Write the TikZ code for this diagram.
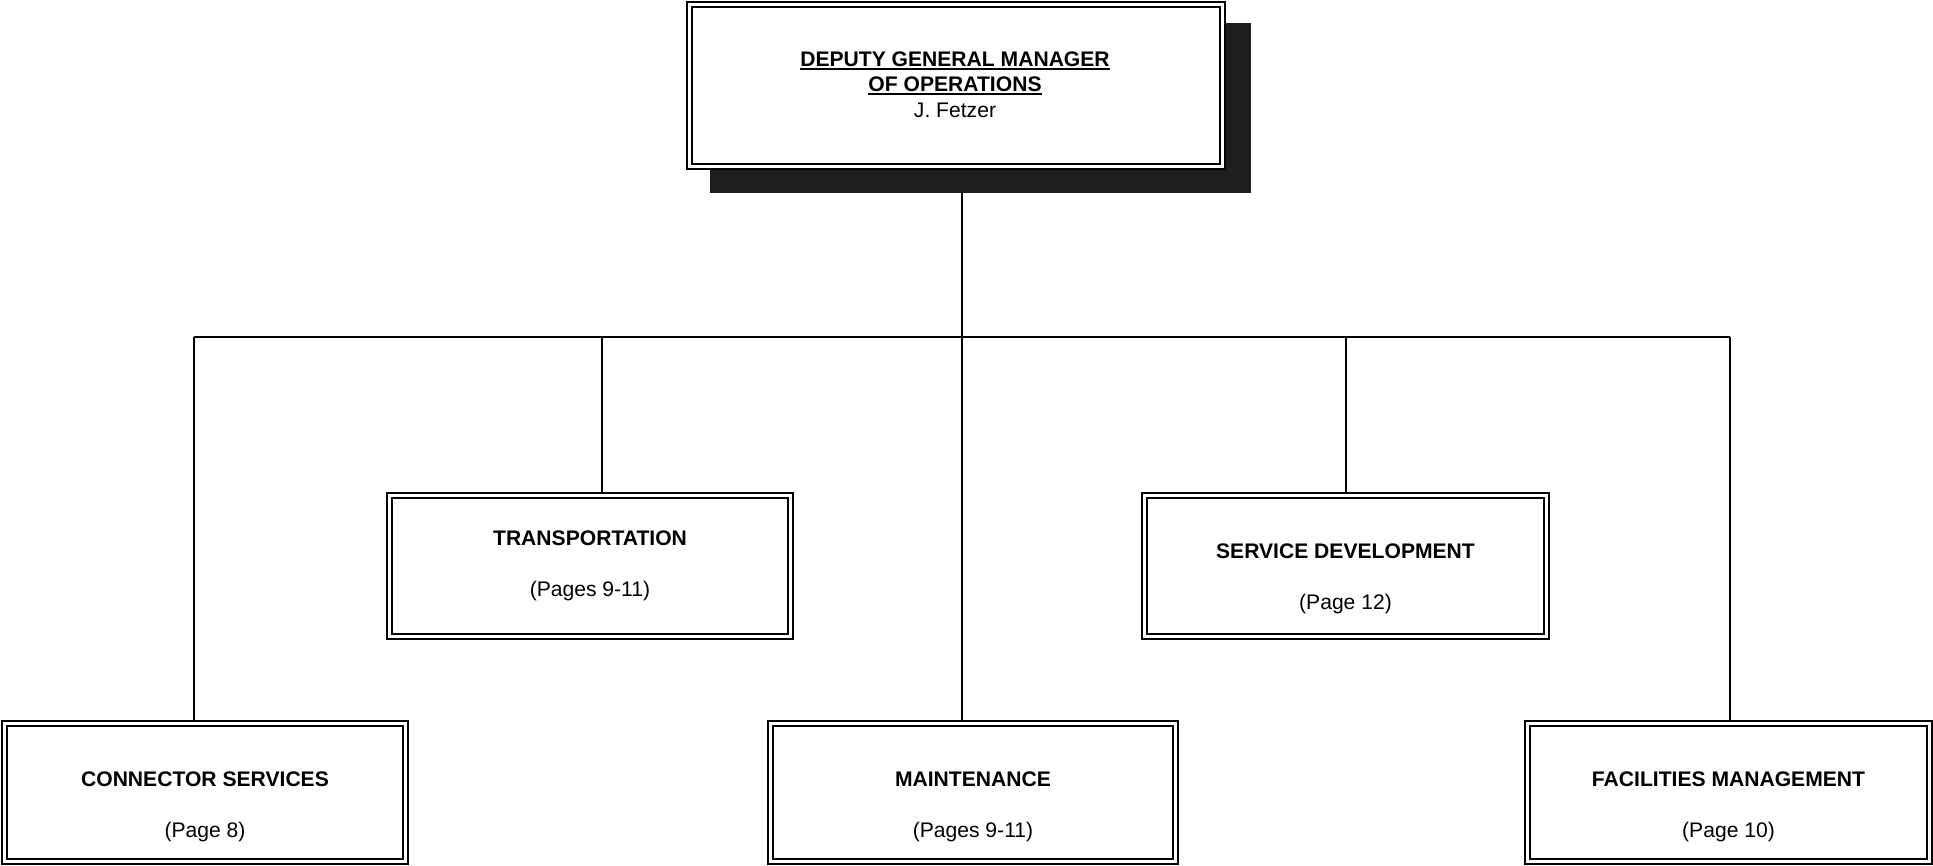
\documentclass[tikz,border=0pt]{standalone}
\usepackage{fontspec}
\setmainfont{Liberation Sans}
\usetikzlibrary{calc}
\definecolor{shadowgray}{HTML}{1E1E1E}
% underline with a rule of a chosen thickness and depth
\newsavebox\ulbox
\newcommand\ulinetext[1]{\sbox\ulbox{#1}\leavevmode\rlap{\rule[-3.4pt]{\wd\ulbox}{1.7pt}}\usebox\ulbox}
\begin{document}
\begin{tikzpicture}[x=1pt,y=-1pt,
  orgbox/.style={draw, line width=2.8pt, fill=white, rectangle, inner sep=0pt, outer sep=0pt},
  innerline/.style={line width=1.6pt},
  link/.style={line width=2pt},
  headtext/.style={font=\fontsize{21.1}{24.5}\selectfont\bfseries, inner sep=0pt},
  pagetext/.style={font=\fontsize{21.1}{24.5}\selectfont, inner sep=0pt},
  dropshadow/.style={fill=shadowgray, draw=none, rectangle, inner sep=0pt, outer sep=0pt}]
\useasboundingbox (0,0) rectangle (1933,866);

% top box with its shadow
\node[dropshadow, minimum width=541pt, minimum height=170pt] (shadow) at (980.5,108) {};
\node[orgbox, minimum width=538pt, minimum height=167pt] (top) at (956,85.5) {};
\node[inner sep=0pt, align=center, font=\fontsize{21.1}{25.6}\selectfont] (toptext) at (955,84.5)
  {\textbf{\ulinetext{DEPUTY GENERAL MANAGER}}\\ \textbf{\ulinetext{OF OPERATIONS}}\\ J. Fetzer};

% second row
\node[orgbox, minimum width=406pt, minimum height=146pt] (tr) at (590,566) {};
\node[orgbox, minimum width=407pt, minimum height=146pt] (sd) at (1345.5,566) {};

% third row
\node[orgbox, minimum width=406pt, minimum height=143pt] (cs) at (205,792.5) {};
\node[orgbox, minimum width=410pt, minimum height=143pt] (mt) at (973,792.5) {};
\node[orgbox, minimum width=407pt, minimum height=143pt] (fm) at (1728.5,792.5) {};

% inner frame of each box
\foreach \n in {top,tr,sd,cs,mt,fm}
  \draw[innerline] ([shift={(5pt,-5pt)}]\n.north west) rectangle ([shift={(-5pt,5pt)}]\n.south east);

% box labels
\node[headtext] (trt) at ([yshift=27.5pt]tr.center) {TRANSPORTATION};
\node[pagetext] (trp) at ([yshift=-25.5pt]tr.center) {(Pages 9-11)};
\node[headtext] (sdt) at ([yshift=15pt]sd.center) {SERVICE DEVELOPMENT};
\node[pagetext] (sdp) at ([yshift=-38.5pt]sd.center) {(Page 12)};
\node[headtext] (cst) at ([yshift=13pt]cs.center) {CONNECTOR SERVICES};
\node[pagetext] (csp) at ([yshift=-40pt]cs.center) {(Page 8)};
\node[headtext] (mtt) at ([yshift=13pt]mt.center) {MAINTENANCE};
\node[pagetext] (mtp) at ([yshift=-40pt]mt.center) {(Pages 9-11)};
\node[headtext] (fmt) at ([yshift=13pt]fm.center) {FACILITIES MANAGEMENT};
\node[pagetext] (fmp) at ([yshift=-40pt]fm.center) {(Page 10)};

% horizontal bus and its drop points
\coordinate (b1) at (193.5,336.7);
\coordinate (b2) at (601.5,336.7);
\coordinate (b3) at (962,336.7);
\coordinate (b4) at (1345.5,336.7);
\coordinate (b5) at (1729.5,336.7);

\draw[link] (b1) -- (b5);
\draw[link] (shadow.south -| b3) -- (b3) -- (b3 |- mt.north);
\draw[link] (b1) -- (b1 |- cs.north);
\draw[link] (b2) -- (b2 |- tr.north);
\draw[link] (b4) -- (b4 |- sd.north);
\draw[link] (b5) -- (b5 |- fm.north);
\end{tikzpicture}
\end{document}
